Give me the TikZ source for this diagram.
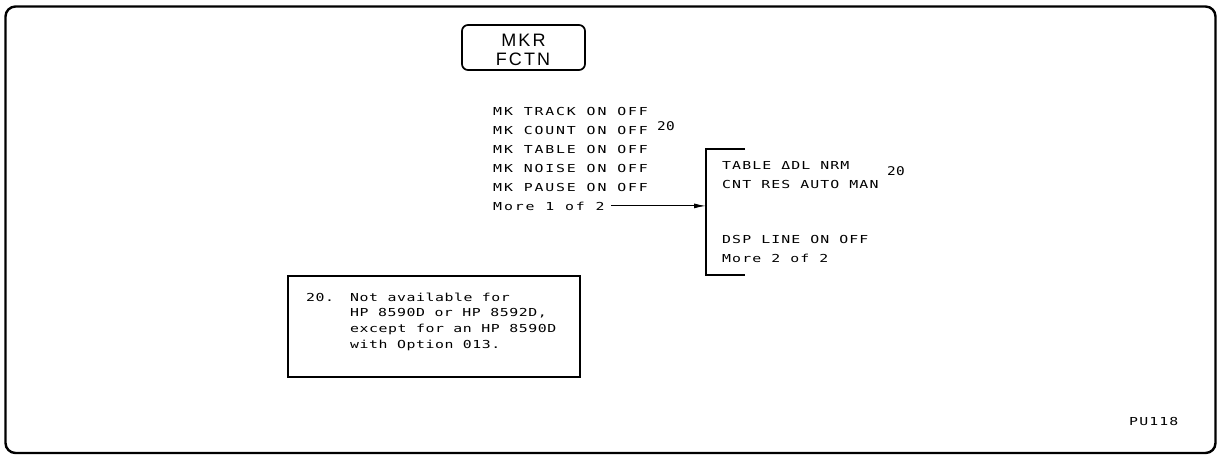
\documentclass[tikz,border=0pt]{standalone}
\usepackage{fontspec}
\setmainfont{DejaVu Sans Mono}
\newfontfamily\menufont[FakeStretch=1.35, LetterSpace=17]{DejaVu Sans Mono}
\newfontfamily\rightfont[FakeStretch=1.35, LetterSpace=10]{DejaVu Sans Mono}
\newfontfamily\notefont[FakeStretch=1.35, LetterSpace=5]{DejaVu Sans Mono}
\newfontfamily\supfont[FakeStretch=1.2, LetterSpace=2]{DejaVu Sans Mono}
\newfontfamily\keyfont[LetterSpace=12]{Liberation Sans}
\usetikzlibrary{arrows.meta}
\begin{document}
\begin{tikzpicture}[x=1pt,y=-1pt,
  txt/.style={anchor=base west, inner sep=0pt, font=\menufont\fontsize{11}{11}\selectfont},
  rtxt/.style={anchor=base west, inner sep=0pt, font=\rightfont\fontsize{11}{11}\selectfont},
  ntxt/.style={anchor=base west, inner sep=0pt, font=\notefont\fontsize{11}{11}\selectfont},
  stxt/.style={anchor=base west, inner sep=0pt, font=\supfont\fontsize{12}{12}\selectfont},
  keytxt/.style={anchor=base, inner sep=0pt, font=\keyfont\fontsize{18}{18}\selectfont},
  keybox/.style={draw, line width=1.7pt, rounded corners=6pt, minimum width=123pt, minimum height=45pt, inner sep=0pt},
  fnbox/.style={draw, line width=1.8pt, minimum width=292pt, minimum height=101pt, inner sep=0pt},
  bracket/.style={draw, line width=1.8pt},
  conn/.style={line width=1.1pt, -{Latex[length=12pt,width=5pt]}}]
\useasboundingbox (0,0) rectangle (1217,455);
\draw[line width=2.4pt, rounded corners=10pt] (5.5,6.5) rectangle (1215.5,453);
% key
\node[keybox] (key) at (523.5,47.5) {};
\node[keytxt] (mkr) at (523.5,46) {MKR};
\node[keytxt] (fctn) at (523,65.5) {FCTN};
% menu 1
\node[txt] (m1) at (493,115) {MK TRACK ON OFF};
\node[txt] (m2) at (493,134) {MK COUNT ON OFF};
\node[txt] (m3) at (493,153) {MK TABLE ON OFF};
\node[txt] (m4) at (493,172) {MK NOISE ON OFF};
\node[txt] (m5) at (493,191) {MK PAUSE ON OFF};
\node[txt] (m6) at (493,210) {More 1 of 2};
\node[stxt] (s1) at (657,130) {20};
% bracket
\coordinate (bt) at (706,149);
\coordinate (bb) at (706,275);
\coordinate (bm) at (706,205);
\draw[bracket] ([xshift=39pt]bt) -- (bt) -- (bb) -- ([xshift=39pt]bb);
\draw[conn] ([xshift=6pt]m6.east) -- (m6.east -| bm);
% menu 2
\node[rtxt] (r1) at (722,169.3) {TABLE ΔDL NRM};
\node[rtxt] (r2) at (722,188) {CNT RES AUTO MAN};
\node[stxt] (s2) at (887,175) {20};
\node[rtxt] (r3) at (722,243.5) {DSP LINE ON OFF};
\node[rtxt] (r4) at (722,262) {More 2 of 2};
% footnote
\node[fnbox] (fn) at (434,326.5) {};
\node[ntxt] (f0) at (306,301.7) {20.};
\node[ntxt] (f1) at (350,301.7) {Not available for};
\node[ntxt] (f2) at (350,316.7) {HP 8590D or HP 8592D,};
\node[ntxt] (f3) at (350,332.7) {except for an HP 8590D};
\node[ntxt] (f4) at (350,348.3) {with Option 013.};
% id
\node[rtxt] (pu) at (1129,425) {PU118};
\end{tikzpicture}
\end{document}
